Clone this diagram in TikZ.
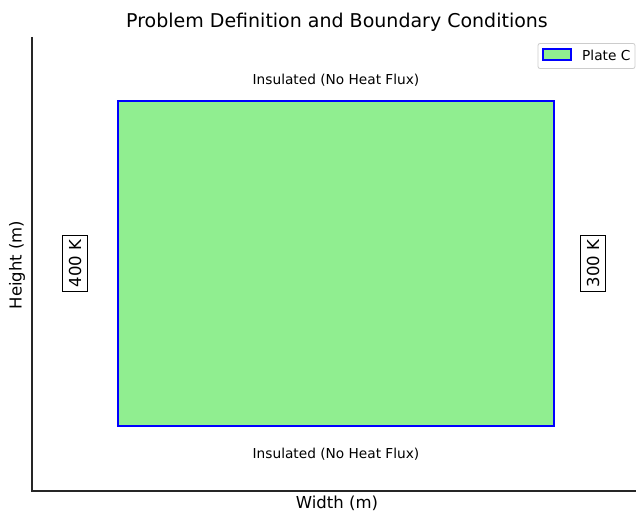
\documentclass[tikz,border=0pt]{standalone}
\usepackage{fontspec}
\setmainfont{DejaVu Sans}
\definecolor{lgreen}{HTML}{90EE90}
\begin{document}
\begin{tikzpicture}[x=1pt,y=-1pt,
  lbl/.style={inner sep=0pt, font=\fontsize{13.7}{16}\selectfont},
  bclabel/.style={draw=black, line width=1.1pt, inner xsep=4.5pt, inner ysep=6.5pt, rotate=90, font=\fontsize{16.5}{19}\selectfont},
  axlabel/.style={inner sep=0pt, font=\fontsize{16.5}{19}\selectfont}]
\useasboundingbox (0,0) rectangle (636,511);
% axes spines
\coordinate (top) at (32,37);
\coordinate (origin) at (32,491);
\coordinate (right) at (636,491);
\draw[line width=1.4pt, black!85] (top) -- (origin) -- (right);
% plate
\node[draw=blue, fill=lgreen, line width=2.6pt, minimum width=436pt, minimum height=325pt, inner sep=0pt] (plate) at (336,263.5) {};
% title
\node[inner sep=0pt, font=\fontsize{19}{22}\selectfont] (title) at (337,22) {Problem Definition and Boundary Conditions};
% labels
\node[lbl] (topins) at (336,80) {Insulated (No Heat Flux)};
\node[lbl] (botins) at (336,454) {Insulated (No Heat Flux)};
\node[bclabel] (left) at (75,263.5) {400 K};
\node[bclabel] (rightbc) at (593,263.5) {300 K};
\node[axlabel, rotate=90] (ylab) at (17,265) {Height (m)};
\node[axlabel] (xlab) at (337,503) {Width (m)};
% legend
\node[draw=black!20, fill=white, rounded corners=2pt, line width=0.8pt, minimum width=97pt, minimum height=25pt, inner sep=0pt] (legend) at (586.5,56) {};
\node[draw=blue, fill=lgreen, line width=2.6pt, minimum width=28pt, minimum height=11pt, inner sep=0pt] (patch) at (557,54.5) {};
\node[lbl, anchor=west] (legtext) at (582,55.5) {Plate C};
\end{tikzpicture}
\end{document}
